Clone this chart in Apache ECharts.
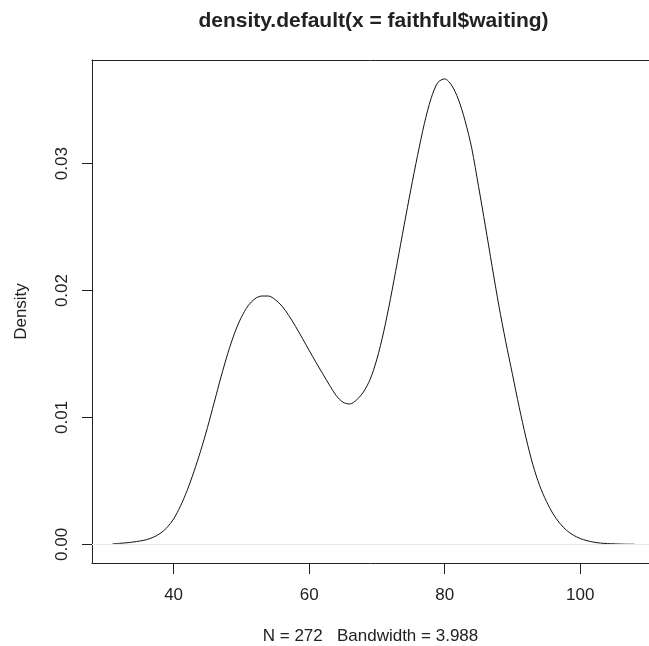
<!DOCTYPE html>
<html>
<head>
<meta charset="utf-8">
<script src="https://cdn.jsdelivr.net/npm/echarts@6/dist/echarts.min.js"></script>
<style>
  html, body { margin: 0; padding: 0; background: #fff; }
  #chart { width: 649px; height: 646px; }
</style>
</head>
<body>
<div id="chart"></div>
<script>
// Values (kernel density of waiting time)
var waitingX = [31, 32, 33, 34, 35, 36, 37, 38, 39, 40,
                41, 42, 43, 44, 45, 46, 47, 48, 49, 50,
                51, 52, 53, 54, 55, 56, 57, 58, 59, 60,
                61, 62, 63, 64, 65, 66, 67, 68, 69, 70,
                71, 72, 73, 74, 75, 76, 77, 78, 79, 80,
                81, 82, 83, 84, 85, 86, 87, 88, 89, 90,
                91, 92, 93, 94, 95, 96, 97, 98, 99, 100,
                101, 102, 103, 104, 105, 106, 107, 108];
var densityY = [0.00004, 0.00008, 0.00012, 0.00018, 0.00026, 0.00037, 0.00056, 0.00085, 0.00131, 0.00200,
                0.00300, 0.00425, 0.00573, 0.00738, 0.00921, 0.01120, 0.01320, 0.01505, 0.01665, 0.01790,
                0.01880, 0.01935, 0.01957, 0.01957, 0.01928, 0.01877, 0.01803, 0.01717, 0.01624, 0.01529,
                0.01435, 0.01345, 0.01255, 0.01172, 0.01120, 0.01106, 0.01138, 0.01200, 0.01300, 0.01460,
                0.01675, 0.01935, 0.02220, 0.02510, 0.02795, 0.03065, 0.03315, 0.03515, 0.03640, 0.03668,
                0.03620, 0.03510, 0.03340, 0.03120, 0.02820, 0.02510, 0.02190, 0.01880, 0.01600, 0.01340,
                0.01080, 0.00840, 0.00630, 0.00465, 0.00340, 0.00240, 0.00165, 0.00110, 0.00072, 0.00046,
                0.00029, 0.00017, 0.00010, 0.00006, 0.00004, 0.00002, 0.00001, 0.00001];
var xTicks = [40, 60, 80, 100];
var yTicks = [0, 0.01, 0.02, 0.03];
var titleText = 'density.default(x = faithful$waiting)';
var subText = 'N = 272   Bandwidth = 3.988';
var yName = 'Density';

var points = waitingX.map(function (x, i) { return [x, densityY[i]]; });
var FONT = 'Liberation Sans';
var INK = '#222';

var chart = echarts.init(document.getElementById('chart'), null, { renderer: 'canvas' });
chart.setOption({
  animation: false,
  backgroundColor: '#ffffff',
  textStyle: { fontFamily: FONT },
  grid: { left: 92, top: 60, right: 0, bottom: 83, show: false, containLabel: false, outerBoundsMode: 'none' },
  xAxis: [{
    type: 'value',
    position: 'bottom',
    min: 27.96, max: 110.15,
    axisLine: { show: true, onZero: false, lineStyle: { color: INK, width: 1 } },
    splitLine: { show: false },
    axisTick: { show: true, inside: false, customValues: xTicks, length: 11, lineStyle: { color: INK, width: 1 } },
    axisLabel: { customValues: xTicks, fontSize: 17, color: INK, margin: 24, fontFamily: FONT },
    name: subText,
    nameLocation: 'middle',
    nameGap: 65,
    nameTextStyle: { fontSize: 17, color: INK, fontFamily: FONT }
  }, {
    type: 'value',
    position: 'top',
    min: 27.96, max: 110.15,
    axisLine: { show: true, onZero: false, lineStyle: { color: INK, width: 1 } },
    splitLine: { show: false },
    axisTick: { show: false },
    axisLabel: { show: false }
  }],
  yAxis: {
    type: 'value',
    min: -0.00147, max: 0.03817,
    axisLine: { show: true, onZero: false, lineStyle: { color: INK, width: 1 } },
    splitLine: { show: false },
    axisTick: { show: true, customValues: yTicks, length: 10, lineStyle: { color: INK, width: 1 } },
    axisLabel: {
      customValues: yTicks, fontSize: 17, color: INK, margin: 21, rotate: 90, fontFamily: FONT,
      formatter: function (v) { return v.toFixed(2); }
    },
    name: yName,
    nameLocation: 'middle',
    nameRotate: 90,
    nameGap: 62,
    nameTextStyle: { fontSize: 17, color: INK, fontFamily: FONT }
  },
  graphic: [{
    type: 'text',
    x: 373.5, y: 21,
    style: {
      text: titleText,
      font: 'bold 21px "Liberation Sans"',
      fill: INK,
      textAlign: 'center',
      textVerticalAlign: 'middle'
    }
  }],
  series: [{
    type: 'line',
    xAxisIndex: 0,
    data: points,
    smooth: 0.3,
    showSymbol: false,
    symbol: 'none',
    lineStyle: { color: '#111', width: 1 },
    markLine: {
      silent: true,
      symbol: 'none',
      label: { show: false },
      lineStyle: { color: '#e8e8e8', width: 1, type: 'solid' },
      data: [{ yAxis: 0 }]
    }
  }]
});
</script>
</body>
</html>
